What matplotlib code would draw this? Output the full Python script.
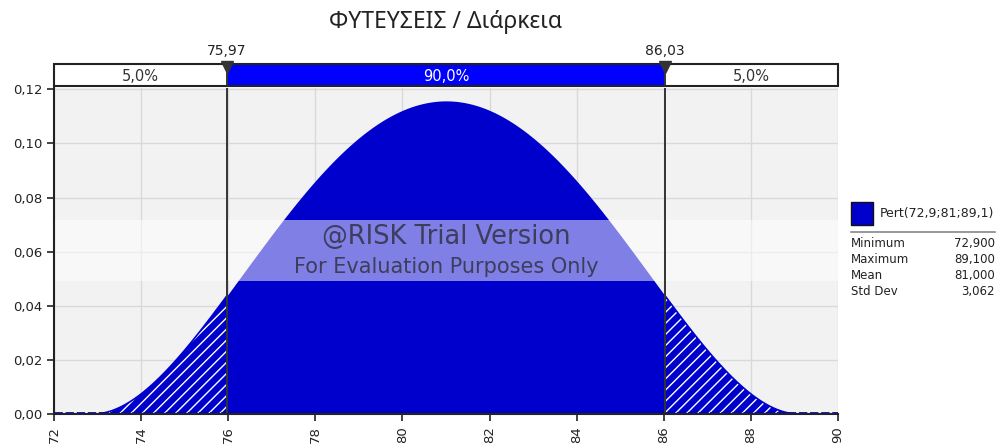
import numpy as np
import matplotlib
matplotlib.use("Agg")
import matplotlib.pyplot as plt
from matplotlib.patches import Rectangle
from math import gamma

# ---- data ----
title = "ΦΥΤΕΥΣΕΙΣ / Διάρκεια"
pert_min, pert_mode, pert_max = 72.9, 81.0, 89.1
p_low, p_high = 75.97, 86.03
pct_labels = ["5,0%", "90,0%", "5,0%"]
marker_labels = ["75,97", "86,03"]
legend_label = "Pert(72,9;81;89,1)"
stat_names = ["Minimum", "Maximum", "Mean", "Std Dev"]
stat_values = ["72,900", "89,100", "81,000", "3,062"]
x_ticks = [72, 74, 76, 78, 80, 82, 84, 86, 88, 90]
y_ticks = [0.00, 0.02, 0.04, 0.06, 0.08, 0.10, 0.12]

# PERT density from the parameters shown in the legend
a_shape = 1 + 4 * (pert_mode - pert_min) / (pert_max - pert_min)
b_shape = 1 + 4 * (pert_max - pert_mode) / (pert_max - pert_min)
B = gamma(a_shape) * gamma(b_shape) / gamma(a_shape + b_shape)
x = np.linspace(72, 90, 2000)
x = np.sort(np.concatenate([x, [p_low, p_high]]))
z = np.clip((x - pert_min) / (pert_max - pert_min), 0, 1)
dens = z ** (a_shape - 1) * (1 - z) ** (b_shape - 1) / B / (pert_max - pert_min)

plt.rcParams['font.family'] = ['DejaVu Sans']
plt.rcParams['hatch.linewidth'] = 1.0

W, H = 1000, 448
fig = plt.figure(figsize=(W / 100, H / 100), dpi=100)

def fx(px):
    return px / W

def fy(py):
    return 1 - py / H

ax_l, ax_r, ax_t, ax_b = 54, 838, 88, 414
ax = fig.add_axes([fx(ax_l), fy(ax_b), fx(ax_r) - fx(ax_l), fy(ax_t) - fy(ax_b)])
ax.set_xlim(72, 90)
ax.set_ylim(0, 0.1205)
ax.set_facecolor("#f2f2f2")
for y in y_ticks:
    ax.axhline(y, color="#d9d9d9", lw=1, zorder=0)
for xt in x_ticks:
    ax.axvline(xt, color="#d9d9d9", lw=1, zorder=0)

blue = "#0000cc"
mid = (x >= p_low) & (x <= p_high)
lo = x <= p_low
hi = x >= p_high
ax.fill_between(x, 0, dens, where=mid, color=blue, lw=0, zorder=2)
ax.fill_between(x, 0, dens, where=lo, facecolor=blue, edgecolor="white",
                hatch="///", lw=0, zorder=2)
ax.fill_between(x, 0, dens, where=hi, facecolor=blue, edgecolor="white",
                hatch="///", lw=0, zorder=2)
ax.plot(x[lo], dens[lo], color=blue, lw=1.2, zorder=3)
ax.plot(x[hi], dens[hi], color=blue, lw=1.2, zorder=3)
ax.plot([72, 90], [0.0004, 0.0004], color=blue, lw=2, ls=(0, (3, 1)), zorder=2)

# watermark band
ax.axhspan(0.0491, 0.0716, color="white", alpha=0.5, lw=0, zorder=4)
ax.text(81.0, 0.0655, "@RISK Trial Version", ha="center", va="center",
        fontsize=18.5, color="#3d3d5c", zorder=5, family="DejaVu Sans")
ax.text(81.0, 0.0545, "For Evaluation Purposes Only", ha="center", va="center",
        fontsize=15, color="#3d3d5c", zorder=5, family="DejaVu Sans")

for v in (p_low, p_high):
    ax.axvline(v, color="#333333", lw=1.4, zorder=6)

ax.set_xticks(x_ticks)
ax.set_xticklabels([str(t) for t in x_ticks], rotation=90)
ax.set_yticks(y_ticks)
ax.set_yticklabels([f"{t:.2f}".replace(".", ",") for t in y_ticks])
ax.tick_params(axis="both", direction="out", length=5, width=1.2,
               labelsize=9.5, colors="#222222")
for s in ["top", "right"]:
    ax.spines[s].set_visible(False)
for s in ["left", "bottom"]:
    ax.spines[s].set_linewidth(1.5)
    ax.spines[s].set_color("#222222")
    ax.spines[s].set_zorder(7)

# percentile bar
bar_t, bar_b = 64, 86
bx = fig.add_axes([fx(ax_l), fy(bar_b), fx(ax_r) - fx(ax_l), fy(bar_t) - fy(bar_b)])
bx.set_xlim(72, 90)
bx.set_ylim(0, 1)
bx.axis("off")
bx.add_patch(Rectangle((72, 0), 18, 1, facecolor="white", edgecolor="none"))
bx.add_patch(Rectangle((p_low, 0), p_high - p_low, 1, facecolor="#0000ff", edgecolor="none"))
bx.add_patch(Rectangle((72, 0), 18, 1, facecolor="none", edgecolor="#222222", lw=1.5,
                       clip_on=False))
bx.axvline(p_low, color="#333333", lw=1.4)
bx.axvline(p_high, color="#333333", lw=1.4)
centers = [(72 + p_low) / 2, (p_low + p_high) / 2, (p_high + 90) / 2]
cols = ["#333333", "white", "#333333"]
for c, lab, col in zip(centers, pct_labels, cols):
    bx.text(c, 0.45, lab, ha="center", va="center", fontsize=10.5, color=col)
bx.plot([p_low, p_high], [0.88, 0.88], ls="none", marker="v", markersize=9,
        color="#333333", clip_on=False)
for v, lab in zip([p_low, p_high], marker_labels):
    bx.text(v, 1.6, lab, ha="center", va="center", fontsize=10, color="#222222",
            clip_on=False)

fig.text(fx((ax_l + ax_r) / 2), fy(22), title, ha="center", va="center",
         fontsize=16.5, color="#222222", family="Noto Sans")

# legend panel
fig.patches.append(Rectangle((fx(851), fy(225)), fx(873) - fx(851), fy(202) - fy(225),
                             transform=fig.transFigure, facecolor="#0000cc",
                             edgecolor="#111111", lw=1))
fig.text(fx(880), fy(213), legend_label, ha="left", va="center", fontsize=9,
         color="#222222")
fig.add_artist(plt.Line2D([fx(851), fx(995)], [fy(232), fy(232)],
                          transform=fig.transFigure, color="#888888", lw=1.2))
for i, (n, v) in enumerate(zip(stat_names, stat_values)):
    yy = fy(243 + i * 16.3)
    fig.text(fx(851), yy, n, ha="left", va="center", fontsize=8.5, color="#222222")
    fig.text(fx(995), yy, v, ha="right", va="center", fontsize=8.5, color="#222222")

fig.savefig("out.png", dpi=100)
